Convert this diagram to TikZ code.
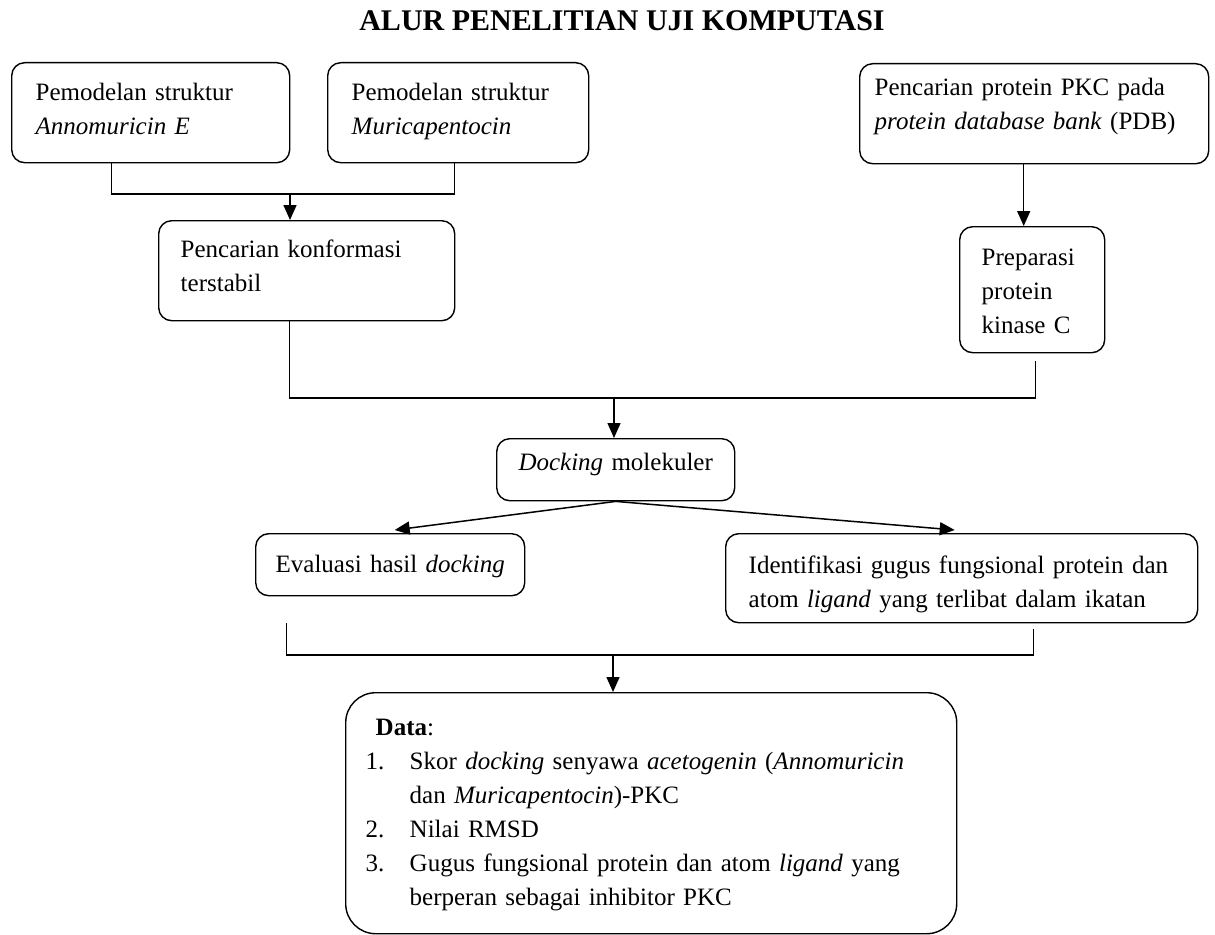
\documentclass[tikz,border=0pt]{standalone}
\usepackage{fontspec}
\setmainfont{Liberation Serif}
\usetikzlibrary{positioning}
\usetikzlibrary{arrows.meta}

\begin{document}
\begin{tikzpicture}[x=1pt,y=-1pt,
  font=\fontsize{25pt}{34pt}\selectfont,
  box/.style={draw,line width=1.4pt,rounded corners=13pt,align=left,anchor=north west,inner ysep=0pt},
  link/.style={line width=1.5pt},
  arr/.style={link,-{Triangle[length=15pt,width=13pt]}}]
 \useasboundingbox (0,0) rectangle (1215,934);
 \node[font=\fontsize{30pt}{36pt}\selectfont\bfseries,anchor=base] (title) at (622,31) {ALUR PENELITIAN UJI KOMPUTASI};
 % boxes
 \node[box,text width=230pt,inner xsep=24pt,text height=38pt,text depth=62pt] (annomuricin) at (11,62) {Pemodelan struktur\\\textit{Annomuricin E}};
 \node[box,text width=213pt,inner xsep=24pt,text height=38pt,text depth=62pt] (muricap) at (327,62) {Pemodelan struktur\\\textit{Muricapentocin}};
 \node[box,text width=319pt,inner xsep=15pt,text height=32pt,text depth=68pt] (pdb) at (859,63) {Pencarian protein PKC pada\\\textit{protein database bank} (PDB)};
 \node[box,text width=252pt,inner xsep=22pt,text height=37pt,text depth=63pt] (konformasi) at (158,220) {Pencarian konformasi\\terstabil};
 \node[box,text width=101pt,inner xsep=22pt,text height=39pt,text depth=87pt] (preparasi) at (959,226) {Preparasi\\protein\\kinase C};
 \node[box,align=center,text width=238pt,inner xsep=0pt,text height=32pt,text depth=30pt] (docking) at (496,438) {\textit{Docking} molekuler};
 \node[box,align=center,text width=269pt,inner xsep=0pt,text height=39pt,text depth=23pt] (evaluasi) at (255,533) {Evaluasi hasil \textit{docking}};
 \node[box,text width=426pt,inner xsep=23pt,text height=40pt,text depth=49pt] (identifikasi) at (725,533) {Identifikasi gugus fungsional protein dan\\atom \textit{ligand} yang terlibat dalam ikatan};
 \node[box,rounded corners=30pt,text width=571pt,inner xsep=20pt,text height=43pt,text depth=198pt] (data) at (345,692) {\hspace*{10pt}\textbf{Data}:\\
  \makebox[44pt][l]{1.}Skor \textit{docking} senyawa \textit{acetogenin} (\textit{Annomuricin}\\
  \hspace*{44pt}dan \textit{Muricapentocin})-PKC\\
  \makebox[44pt][l]{2.}Nilai RMSD\\
  \makebox[44pt][l]{3.}Gugus fungsional protein dan atom \textit{ligand} yang\\
  \hspace*{44pt}berperan sebagai inhibitor PKC};
 % connectors
 \coordinate (j1) at (290,194);
 \coordinate (j2) at (614,398);
 \coordinate (j3) at (613,655);
 \draw[link] ([xshift=-39pt]annomuricin.south) |- (j1) -| ([xshift=-3.5pt]muricap.south);
 \draw[arr] (j1) -- (j1 |- konformasi.north);
 \draw[arr] ([xshift=-8.5pt]preparasi.north |- pdb.south) -- ([xshift=-8.5pt]preparasi.north);
 \draw[link] ([xshift=-17pt]konformasi.south) |- (j2) -| ([xshift=3.5pt,yshift=-8pt]preparasi.south);
 \draw[arr] (j2) -- (j2 |- docking.north);
 \draw[arr] (docking.south) -- ([xshift=4.5pt,yshift=3pt]evaluasi.north);
 \draw[arr] (docking.south) -- ([xshift=-7pt,yshift=3pt]identifikasi.north);
 \draw[link] ([xshift=-103.5pt,yshift=-27pt]evaluasi.south) |- (j3) -| ([xshift=72pt,yshift=-6pt]identifikasi.south);
 \draw[arr] (j3) -- (j3 |- data.north);
\end{tikzpicture}
\end{document}
